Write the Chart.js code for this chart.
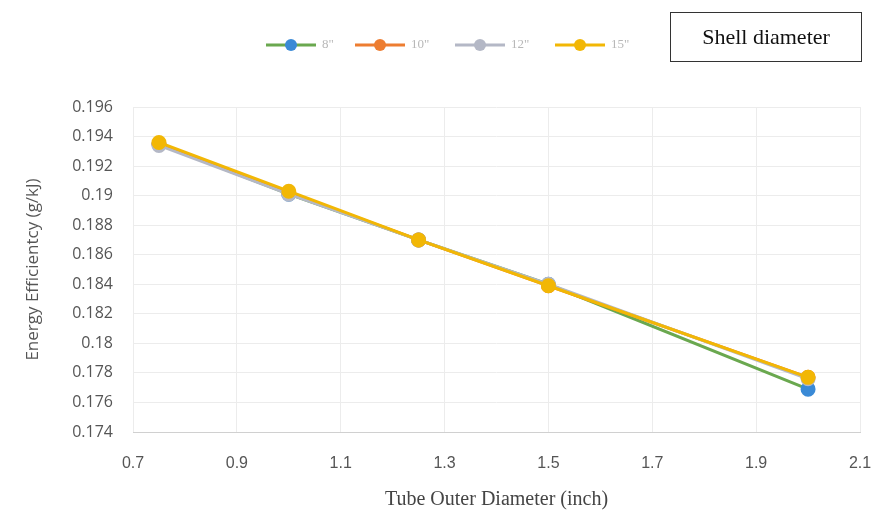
<!DOCTYPE html>
<html><head><meta charset="utf-8">
<script src="https://cdn.jsdelivr.net/npm/chart.js@4"></script>
<style>
html,body{margin:0;padding:0;background:#fff;}
#wrap{position:relative;width:889px;height:526px;}
#box{position:absolute;left:670px;top:12px;width:192px;height:50px;border:1.5px solid #333;box-sizing:border-box;font-family:"Liberation Serif",serif;font-size:22px;color:#111;display:flex;align-items:center;justify-content:center;}
</style></head>
<body><div id="wrap"><canvas id="c" width="889" height="526"></canvas><div id="box">Shell diameter</div></div>
<script>
const tubeOD = [0.75, 1.0, 1.25, 1.5, 2.0];
const seriesNames = ['8"', '10"', '12"', '15"'];
const s8  = [0.1935, 0.1901, 0.1870, 0.1840, 0.1769];
const s10 = [0.1935, 0.1902, 0.1870, 0.1839, 0.1777];
const s12 = [0.1934, 0.1901, 0.1870, 0.1840, 0.1776];
const s15 = [0.1936, 0.1903, 0.1870, 0.1839, 0.1777];
const xTicks = [0.7, 0.9, 1.1, 1.3, 1.5, 1.7, 1.9, 2.1];

const lineColors = ['#6aa84f', '#ed7d31', '#b4b8c6', '#f2b705'];
const pointColors = ['#3a8ad6', '#ed7d31', '#b4b8c6', '#f2b705'];
const all = [s8, s10, s12, s15];

const datasets = all.map((arr, i) => ({
  label: seriesNames[i],
  data: arr.map((v, j) => ({x: tubeOD[j], y: v})),
  borderColor: lineColors[i],
  backgroundColor: pointColors[i],
  pointBackgroundColor: pointColors[i],
  pointBorderColor: pointColors[i],
  borderWidth: 3,
  pointRadius: 6,
  tension: 0,
  order: 3 - i
}));

const legendPlugin = {
  id: 'customLegend',
  afterDraw(chart) {
    const ctx = chart.ctx;
    const starts = [266, 355, 455, 555];
    const y = 45;
    ctx.save();
    starts.forEach((x0, i) => {
      ctx.strokeStyle = lineColors[i];
      ctx.lineWidth = 3;
      ctx.beginPath(); ctx.moveTo(x0, y); ctx.lineTo(x0 + 50, y); ctx.stroke();
      ctx.fillStyle = pointColors[i];
      ctx.beginPath(); ctx.arc(x0 + 25, y, 6, 0, Math.PI * 2); ctx.fill();
      ctx.fillStyle = '#b8b8b8';
      ctx.font = '13px "Liberation Serif", serif';
      ctx.textBaseline = 'middle';
      ctx.fillText(seriesNames[i], x0 + 56, y);
    });
    ctx.restore();
  }
};

new Chart(document.getElementById('c'), {
  type: 'line',
  data: { datasets },
  options: {
    responsive: false,
    animation: false,
    layout: { padding: { top: 107, right: 29, left: 19, bottom: 0 } },
    plugins: { legend: { display: false }, tooltip: { enabled: false } },
    scales: {
      x: {
        type: 'linear', min: 0.7, max: 2.1,
        afterBuildTicks: (s) => { s.ticks = xTicks.map(v => ({value: v})); },
        ticks: { callback: v => parseFloat(v.toFixed(1)).toString(), color: '#555', font: { size: 16, family: '"Liberation Sans", sans-serif' }, padding: 22 },
        grid: { color: '#ececec', drawTicks: false },
        border: { color: '#d0d0d0' },
        title: { display: true, text: 'Tube Outer Diameter (inch)', color: '#444', font: { size: 20, family: '"Liberation Serif", serif' }, padding: { top: 10, bottom: 14 } },
        afterFit: (s) => { s.height = 94; s.paddingRight = 0; }
      },
      y: {
        min: 0.174, max: 0.196,
        ticks: { stepSize: 0.002, callback: v => parseFloat(v.toFixed(3)).toString(), color: '#555', font: { size: 16, family: '"Open Sans", sans-serif' }, padding: 20 },
        grid: { color: '#ececec', drawTicks: false },
        border: { display: false },
        title: { display: true, text: 'Energy Efficientcy (g/kJ)', color: '#555', font: { size: 17, family: '"Open Sans", sans-serif' }, padding: { bottom: 4 } },
        afterFit: (s) => { s.width = 114; }
      }
    }
  },
  plugins: [legendPlugin]
});
</script></body></html>
